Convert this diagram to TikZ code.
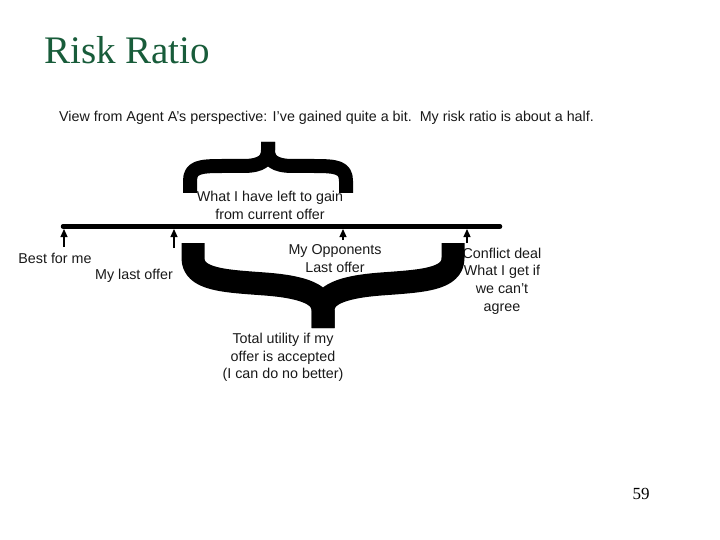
\documentclass[tikz,border=0pt]{standalone}
\usepackage{fontspec}
\setmainfont{Liberation Serif}
\newfontfamily\lsans{Liberation Sans}
\usetikzlibrary{arrows.meta}
\definecolor{titlegreen}{RGB}{24,92,58}
\definecolor{ink}{RGB}{25,25,25}
\begin{document}
\begin{tikzpicture}[x=1pt,y=-1pt,
  lbl/.style={font=\lsans\fontsize{14.3}{17.6}\selectfont, text=ink, align=center, inner sep=0pt},
  uparrow/.style={-{Triangle[length=8pt,width=7pt]}, line width=1.2pt},
  bracestroke/.style={line width=#1, line cap=butt, line join=round}]
\useasboundingbox (0,0) rectangle (720,540);
% title
\node[anchor=base west, inner sep=0pt, text=titlegreen, font=\fontsize{39}{44}\selectfont] (title) at (44,64) {Risk Ratio};
\node[lbl, anchor=west] (sub) at (59,118) {View from Agent A’s perspective: I’ve gained quite a bit.\ \ My risk ratio is about a half.};
% axis
\coordinate (L) at (63,226.5);
\coordinate (R) at (500,226.5);
\draw[line width=4.5pt, line cap=round] (L) -- (R);
\coordinate (a1) at (64,247); \coordinate (t1) at (64,229);
\coordinate (a2) at (174,248); \coordinate (t2) at (174,229);
\coordinate (a3) at (343,240); \coordinate (t3) at (343,229);
\coordinate (a4) at (467,243); \coordinate (t4) at (467,229);
\draw[uparrow] (a1) -- (t1);
\draw[uparrow] (a2) -- (t2);
\draw[uparrow] (a3) -- (t3);
\draw[uparrow] (a4) -- (t4);
% labels
\node[lbl] (best) at (55,258) {Best for me};
\node[lbl] (mylast) at (134,276) {My last offer};
\node[lbl] (opp) at (335,258.5) {My Opponents\\Last offer};
\node[lbl] (conf) at (502,281) {Conflict deal\\What I get if\\we can’t\\agree};
\node[lbl] (left) at (270,205.5) {What I have left to gain\\from current offer};
\node[lbl] (total) at (283,357.5) {Total utility if my\\offer is accepted\\(I can do no better)};
\node[inner sep=0pt, font=\fontsize{17}{20}\selectfont] (page) at (641,494) {59};
% top brace
\draw[bracestroke=14pt] (190,193) -- (190,181)
  .. controls (190,167) and (200,166) .. (222,166)
  -- (243,166) .. controls (262,166) and (268,160) .. (268,150) -- (268,142);
\draw[bracestroke=14pt] (346,193) -- (346,181)
  .. controls (346,167) and (336,166) .. (314,166)
  -- (293,166) .. controls (274,166) and (268,160) .. (268,150) -- (268,142);
% bottom brace
\draw[bracestroke=23pt] (193,243) -- (193,258)
  .. controls (193,280) and (225,281) .. (265,284)
  .. controls (305,287) and (323,295) .. (323,310) -- (323,328);
\draw[bracestroke=23pt] (453,243) -- (453,258)
  .. controls (453,280) and (421,281) .. (381,284)
  .. controls (341,287) and (323,295) .. (323,310) -- (323,328);
\end{tikzpicture}
\end{document}
